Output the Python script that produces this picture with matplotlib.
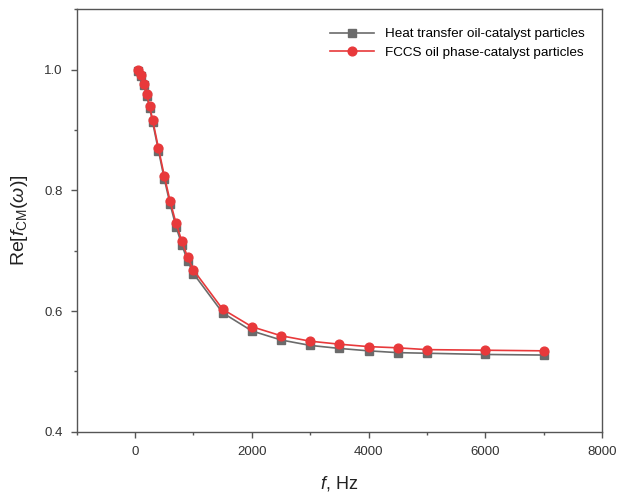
import matplotlib
matplotlib.use("Agg")
import matplotlib.pyplot as plt
from matplotlib.ticker import MultipleLocator

plt.rcParams["font.family"] = ["Liberation Sans", "DejaVu Sans"]
plt.rcParams["mathtext.fontset"] = "custom"
plt.rcParams["mathtext.rm"] = "Liberation Sans"
plt.rcParams["mathtext.it"] = "Liberation Sans:italic"

freq = [50, 100, 150, 200, 250, 300, 400, 500, 600, 700, 800, 900, 1000,
        1500, 2000, 2500, 3000, 3500, 4000, 4500, 5000, 6000, 7000]
heat_oil = [0.997, 0.989, 0.974, 0.956, 0.936, 0.913, 0.866, 0.819, 0.777, 0.740, 0.710,
            0.683, 0.662, 0.597, 0.567, 0.552, 0.543, 0.538, 0.534, 0.531, 0.530, 0.528, 0.527]
fccs_oil = [0.999, 0.991, 0.977, 0.959, 0.939, 0.917, 0.870, 0.824, 0.782, 0.746, 0.716,
            0.689, 0.668, 0.603, 0.574, 0.559, 0.550, 0.545, 0.541, 0.539, 0.536, 0.535, 0.534]

fig = plt.figure(figsize=(6.19, 4.92), dpi=100)
ax = fig.add_axes([0.124, 0.1226, 0.8485, 0.8584])

ax.plot(freq, heat_oil, color="#6b6b6b", lw=1.2, marker="s", ms=5.8,
        label="Heat transfer oil-catalyst particles")
ax.plot(freq, fccs_oil, color="#e8393b", lw=1.2, marker="o", ms=6.3,
        label="FCCS oil phase-catalyst particles")

ax.set_xlim(-1000, 8000)
ax.set_ylim(0.4, 1.1)
ax.xaxis.set_major_locator(MultipleLocator(2000))
ax.xaxis.set_minor_locator(MultipleLocator(1000))
ax.yaxis.set_minor_locator(MultipleLocator(0.1))
ax.set_yticks([0.4, 0.6, 0.8, 1.0])
ax.set_yticklabels(["0.4", "0.6", "0.8", "1.0"])

for s in ax.spines.values():
    s.set_color("#555555")
    s.set_linewidth(1.0)
ax.tick_params(which="major", direction="out", length=4, width=1, color="#555555",
               labelsize=9.5, labelcolor="#333333", pad=6)
ax.tick_params(which="minor", direction="out", length=2, width=1, color="#555555")

ax.set_xlabel(r"$\it{f}$, Hz", fontsize=13, color="#222222", labelpad=12)
ax.set_ylabel(r"Re[$\it{f}_{\rm CM}(\it{\omega})$]", fontsize=14, color="#222222", labelpad=10)

ax.legend(loc="upper right", frameon=False, fontsize=9.7, handlelength=3.3,
          bbox_to_anchor=(0.99, 0.985), labelspacing=0.45)

fig.savefig("out.png", dpi=100)
